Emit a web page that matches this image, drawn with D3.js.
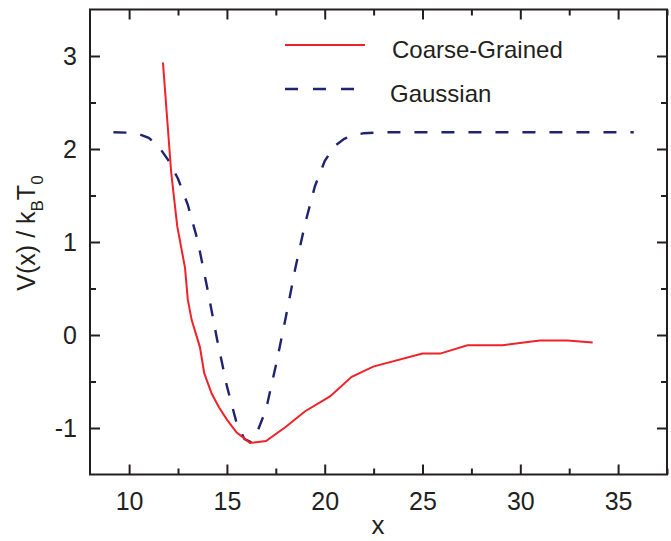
<!DOCTYPE html>
<html><head><meta charset="utf-8">
<script src="https://cdn.jsdelivr.net/npm/d3@7"></script>
<style>body{margin:0;background:#fff}svg{display:block}text{font-family:"Liberation Sans",Arial,sans-serif;fill:#231f20}</style>
</head><body>
<script>
const seriesNames = ["Coarse-Grained", "Gaussian"];
const cgX = [11.73,12.15,12.46,12.86,13.0,13.2,13.62,13.84,14.22,14.6,15.0,15.5,15.76,16.18,17.0,18.0,19.0,20.27,21.38,22.48,25.0,25.9,27.3,29.1,31.0,32.4,33.7];
const cgY = [2.93,1.75,1.17,0.72,0.38,0.16,-0.13,-0.41,-0.63,-0.78,-0.91,-1.05,-1.09,-1.16,-1.14,-0.99,-0.82,-0.66,-0.45,-0.34,-0.2,-0.2,-0.11,-0.11,-0.06,-0.06,-0.08];
const gX = [9.2,10.0,10.5,11.0,11.5,12.0,12.5,13.0,13.5,14.0,14.5,15.0,15.5,15.9,16.2,16.5,17.0,17.5,18.0,18.5,19.0,19.5,20.0,20.5,21.0,21.5,22.0,23.0,25.0,30.0,35.8];
const gY = [2.18,2.175,2.16,2.12,2.03,1.88,1.68,1.40,1.02,0.50,-0.05,-0.55,-0.95,-1.12,-1.15,-1.07,-0.80,-0.33,0.18,0.72,1.20,1.60,1.87,2.03,2.11,2.15,2.17,2.18,2.18,2.18,2.18];
const xTicks = [10,15,20,25,30,35];
const xMinor = [12.5,17.5,22.5,27.5,32.5,37.5];
const yTicks = [-1,0,1,2,3];
const yMinor = [-0.5,0.5,1.5,2.5];

const W=671,H=541, L=90, R=667, T=9.5, B=474.5;
const svg=d3.select("body").append("svg").attr("width",W).attr("height",H);
const x=d3.scaleLinear().domain([8,37.5]).range([L,R]);
const y=d3.scaleLinear().domain([-1.5,3.5]).range([B,T]);
const ink="#231f20";
const fmt=v=>String(v);

function ax(gen, tr, vals, len, labels){
  const g=svg.append("g").attr("transform",tr).call(gen.tickValues(vals).tickSizeInner(len).tickSizeOuter(0).tickFormat(labels?fmt:""));
  g.select(".domain").remove();
  g.selectAll("line").attr("stroke",ink).attr("stroke-width",2);
  return g;
}
const gb=ax(d3.axisBottom(x),`translate(0,${B})`,xTicks,-10,true);
gb.selectAll("text").attr("font-size",25).attr("y",35.5).attr("dy",0).attr("fill",ink);
ax(d3.axisBottom(x),`translate(0,${B})`,xMinor,-6,false);
ax(d3.axisTop(x),`translate(0,${T})`,xTicks,-10,false);
ax(d3.axisTop(x),`translate(0,${T})`,xMinor,-6,false);
const gl=ax(d3.axisLeft(y),`translate(${L},0)`,yTicks,-10,true);
gl.selectAll("text").attr("font-size",25).attr("x",-13).attr("fill",ink);
ax(d3.axisLeft(y),`translate(${L},0)`,yMinor,-6,false);
ax(d3.axisRight(y),`translate(${R},0)`,yTicks,-10,false);
ax(d3.axisRight(y),`translate(${R},0)`,yMinor,-6,false);
svg.selectAll("g").attr("font-family",null);
svg.append("rect").attr("x",L).attr("y",T).attr("width",R-L).attr("height",B-T).attr("fill","none").attr("stroke",ink).attr("stroke-width",2);

const line=d3.line().x(d=>x(d[0])).y(d=>y(d[1]));
const red="#ee2229", navy="#1f2370";
svg.append("path").datum(gX.map((v,i)=>[v,gY[i]])).attr("d",line).attr("fill","none").attr("stroke",navy).attr("stroke-width",2.4).attr("stroke-dasharray","13,14");
svg.append("path").datum(cgX.map((v,i)=>[v,cgY[i]])).attr("d",line).attr("fill","none").attr("stroke",red).attr("stroke-width",2);

// legend
svg.append("line").attr("x1",285).attr("x2",365).attr("y1",45).attr("y2",45).attr("stroke",red).attr("stroke-width",2);
svg.append("text").attr("x",392).attr("y",58).attr("font-size",24).text(seriesNames[0]);
svg.append("line").attr("x1",285).attr("x2",356).attr("y1",89).attr("y2",89).attr("stroke",navy).attr("stroke-width",2.4).attr("stroke-dasharray","13,15");
svg.append("text").attr("x",390).attr("y",101.5).attr("font-size",24).text(seriesNames[1]);

// axis titles
svg.append("text").attr("x",378).attr("y",534).attr("text-anchor","middle").attr("font-size",26).text("x");
const yl=svg.append("text").attr("transform","translate(35,233) rotate(-90)").attr("text-anchor","middle").attr("font-size",25);
yl.append("tspan").text("V(x) / k");
yl.append("tspan").attr("font-size",17).attr("dy",8).text("B");
yl.append("tspan").attr("dy",-8).text("T");
yl.append("tspan").attr("font-size",17).attr("dy",8).text("0");
</script>
</body></html>
